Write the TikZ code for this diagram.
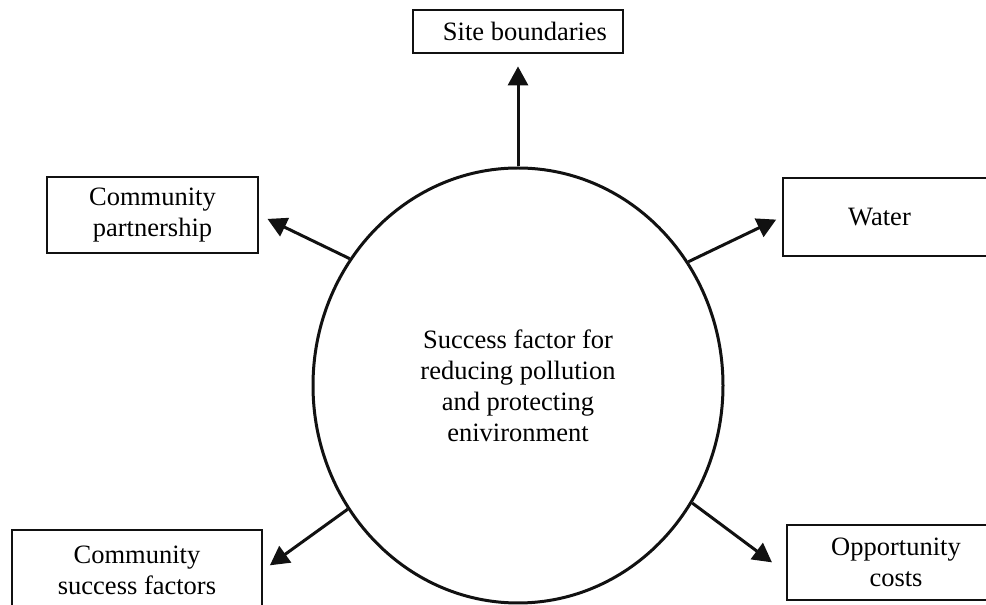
\documentclass[tikz,border=0pt]{standalone}
\usepackage{fontspec}
\setmainfont{Liberation Serif}
\usepackage{xcolor}
\usepackage{tikz}
\usetikzlibrary{positioning,arrows.meta,shapes.geometric}
\definecolor{sfInk}{HTML}{111111}
\newcommand{\bigtxt}{\fontsize{26.5}{31}\selectfont}
\tikzset{
  hub/.style={ellipse, draw=sfInk, line width=3pt, minimum width=410pt,
              minimum height=435pt, inner sep=0pt, align=center, font=\bigtxt},
  factorbox/.style={draw=sfInk, line width=2.8pt, inner sep=0pt, align=center,
              font=\bigtxt},
  flow/.style={-{Triangle[length=19pt,width=20pt]}, line width=3pt, draw=sfInk},
}
\begin{document}
\begin{tikzpicture}[x=1pt,y=1pt]
  \useasboundingbox (0,0) rectangle (986,605);
  \node[hub] (centre) at (518,219.5)
    {Success factor for\\ reducing pollution\\ and protecting\\ enivironment};
  \node[factorbox, minimum width=210pt, minimum height=43pt] (site) at (518,573.5)
    {\hspace{14pt}Site boundaries};
  \node[factorbox, minimum width=211pt, minimum height=76pt] (partner) at (152.5,390)
    {Community\\ partnership};
  \node[factorbox, minimum width=207pt, minimum height=78pt] (water) at (886.5,388)
    {Water\hspace{14pt}};
  \node[factorbox, minimum width=250pt, minimum height=80pt] (success) at (137,35)
    {Community\\ success factors};
  \node[factorbox, minimum width=218pt, minimum height=75pt] (opp) at (896,42.5)
    {Opportunity\\ costs};

  \draw[flow, shorten >=12pt] (centre.north)--(site.south);
  \draw[flow, shorten >=9pt] (centre.143.2)--(partner.east);
  \draw[flow, shorten >=6pt] (centre.36.1)--(water.west);
  \draw[flow, shorten >=8pt] (centre.216.2)--(success.east);
  \draw[flow, shorten >=17pt] (centre.-34.8)--([yshift=-10pt]opp.west);
\end{tikzpicture}
\end{document}
